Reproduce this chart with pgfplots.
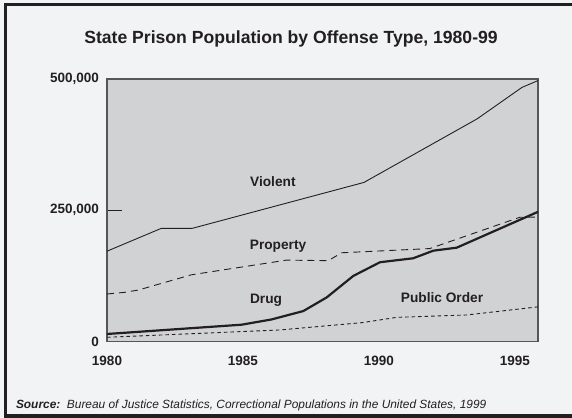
\documentclass[border=0pt]{standalone}
\usepackage{fontspec}
\setmainfont{Liberation Sans}
\usepackage{pgfplots}
\pgfplotsset{compat=1.18}

\definecolor{pagebg}{HTML}{F2F3F5}
\definecolor{plotbg}{HTML}{D1D2D4}
\definecolor{rim}{HTML}{555658}
\definecolor{ink}{HTML}{231F20}

\begin{document}
\begin{tikzpicture}
\useasboundingbox (0pt,0pt) rectangle (572pt,417pt);
\fill[pagebg] (0pt,0pt) rectangle (572pt,417pt);
\draw[ink, line width=3.6pt] (580pt,412.5pt) -- (5.5pt,412.5pt) -- (5.5pt,1pt) -- (580pt,1pt);

\node[font=\bfseries\fontsize{17.6}{20}\selectfont, text=ink] at (291pt,378pt)
   {State Prison Population by Offense Type, 1980-99};

\begin{axis}[
   at={(107pt,75.5pt)}, anchor=south west,
   scale only axis,
   width=431pt, height=262.5pt,
   xmin=1980, xmax=1995.85,
   ymin=0, ymax=500000,
   xtick={1980,1985,1990,1995},
   xticklabels={1980,1985,1990,1995},
   ytick={0,250000,500000},
   yticklabels={0,{250,000},{500,000}},
   scaled y ticks=false,
   xtick style={draw=none},
   ytick style={draw=ink, line width=0.9pt},
   tick align=inside,
   ytick pos=left,
   major tick length=15pt,
   ticklabel style={font=\bfseries\fontsize{13.5}{15}\selectfont, text=ink},
   xticklabel style={yshift=-11pt},
   yticklabel style={xshift=-4.5pt},
   axis line style={draw=rim, line width=1.3pt},
   axis background/.style={fill=plotbg},
   clip=false,
   every axis plot/.append style={ink, line join=round},
]

% Violent
\addplot[line width=0.9pt] coordinates {
   (1980.00, 172000)
   (1982.00, 215600)
   (1983.14, 215600)
   (1989.45, 303000)
   (1993.61, 424000)
   (1995.26, 484000)
   (1995.85, 497000)
};

% Property
\addplot[line width=0.9pt, dash pattern=on 7pt off 5pt] coordinates {
   (1980.00,  90500)
   (1980.66,  93700)
   (1981.15,  98000)
   (1983.10, 127000)
   (1986.60, 155000)
   (1988.14, 154000)
   (1988.63, 169000)
   (1991.87, 177000)
   (1995.18, 236600)
   (1995.85, 237000)
};

% Drug
\addplot[line width=2.2pt] coordinates {
   (1980.00,  14300)
   (1984.95,  32000)
   (1986.05,  42000)
   (1987.22,  58000)
   (1988.08,  84000)
   (1989.06, 125000)
   (1990.04, 151000)
   (1991.26, 158500)
   (1992.00, 173000)
   (1992.86, 178700)
   (1995.85, 247000)
};

% Public order
\addplot[line width=0.9pt, dash pattern=on 3.5pt off 3pt] coordinates {
   (1980.00,   8000)
   (1986.36,  22000)
   (1989.40,  36000)
   (1990.65,  46000)
   (1993.22,  50500)
   (1995.85,  66000)
};

\begin{scope}[every node/.style={font=\bfseries\fontsize{13.7}{15}\selectfont, text=ink}]
\node at (axis cs:1986.10,303800) {Violent};
\node at (axis cs:1986.29,180600) {Property};
\node at (axis cs:1985.85, 77700) {Drug};
\node at (axis cs:1992.32, 82900) {Public Order};
\end{scope}
\end{axis}

\node[anchor=west, text=ink, font=\fontsize{11.9}{13}\selectfont] at (12.5pt,11.3pt)
   {\bfseries\itshape Source:\ \ \mdseries Bureau of Justice Statistics, Correctional Populations in the United States, 1999};
\end{tikzpicture}
\end{document}
